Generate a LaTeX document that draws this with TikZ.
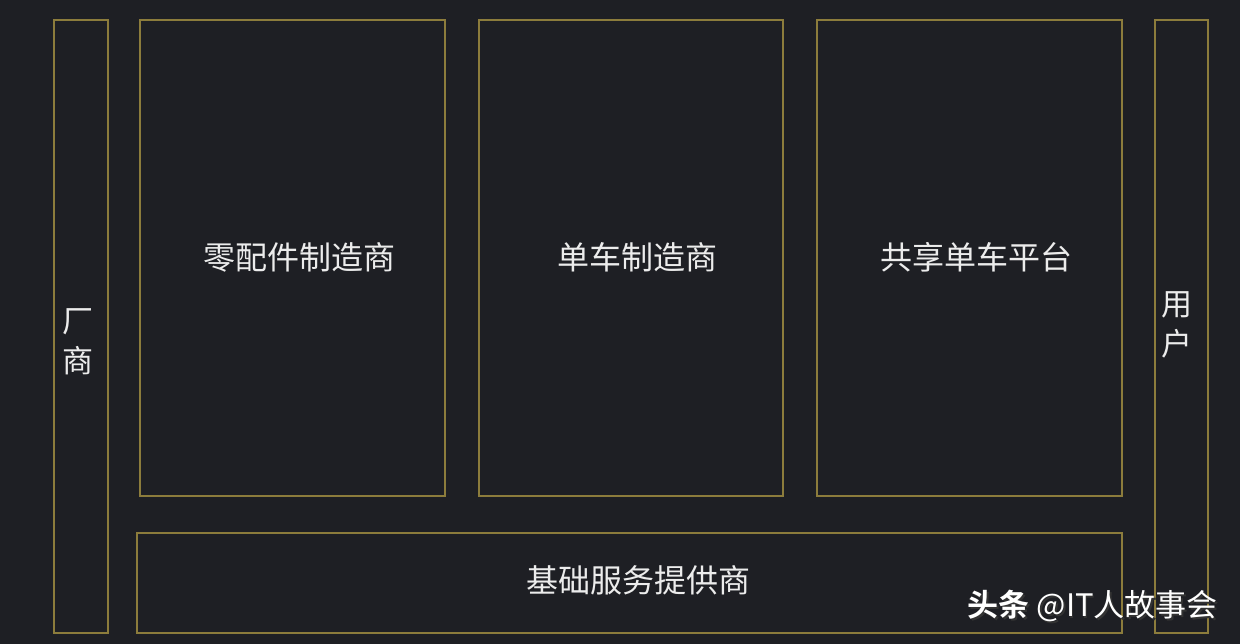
\documentclass[tikz,border=0pt]{standalone}
\usepackage{fontspec}
\newfontfamily\cjk{Noto Sans CJK SC}
\newfontfamily\cjkb{Noto Sans CJK SC Bold}
\definecolor{bg}{HTML}{1E1F24}
\definecolor{frame}{HTML}{8C7C3C}
\definecolor{txt}{HTML}{ECECEC}
\tikzset{
  box/.style={draw=frame, line width=1.6pt},
  lbl/.style={text=txt, font=\cjk\fontsize{32}{34}\selectfont, inner sep=0pt},
  vlbl/.style={text=txt, font=\cjk\fontsize{31}{40}\selectfont, inner sep=0pt, align=center},
  wm/.style={font=\cjkb\fontsize{31}{34}\selectfont, inner sep=0pt, anchor=east},
}
\begin{document}
\begin{tikzpicture}[x=1pt,y=-1pt]
\fill[bg] (0,0) rectangle (1240,644);
\useasboundingbox (0,0) rectangle (1240,644);
\draw[box] (54,20) rectangle (108,633);
\draw[box] (140,20) rectangle (445,496);
\draw[box] (479,20) rectangle (783,496);
\draw[box] (817,20) rectangle (1122,496);
\draw[box] (1155,20) rectangle (1208,633);
\draw[box] (137,533) rectangle (1122,633);
\node[lbl] (a) at (299,257) {零配件制造商};
\node[lbl] (b) at (637,257) {单车制造商};
\node[lbl] (c) at (976,257) {共享单车平台};
\node[lbl] (d) at (638,580) {基础服务提供商};
\node[vlbl] (e) at (78,342) {厂\\商};
\node[vlbl] (f) at (1177,325) {用\\户};
\node[wm, text=black!80] (ws) at (1219.5,607.5) {头条 {\cjk @IT人故事会}};
\node[wm, text=white] (w) at (1218,606) {头条 {\cjk @IT人故事会}};
\end{tikzpicture}
\end{document}
